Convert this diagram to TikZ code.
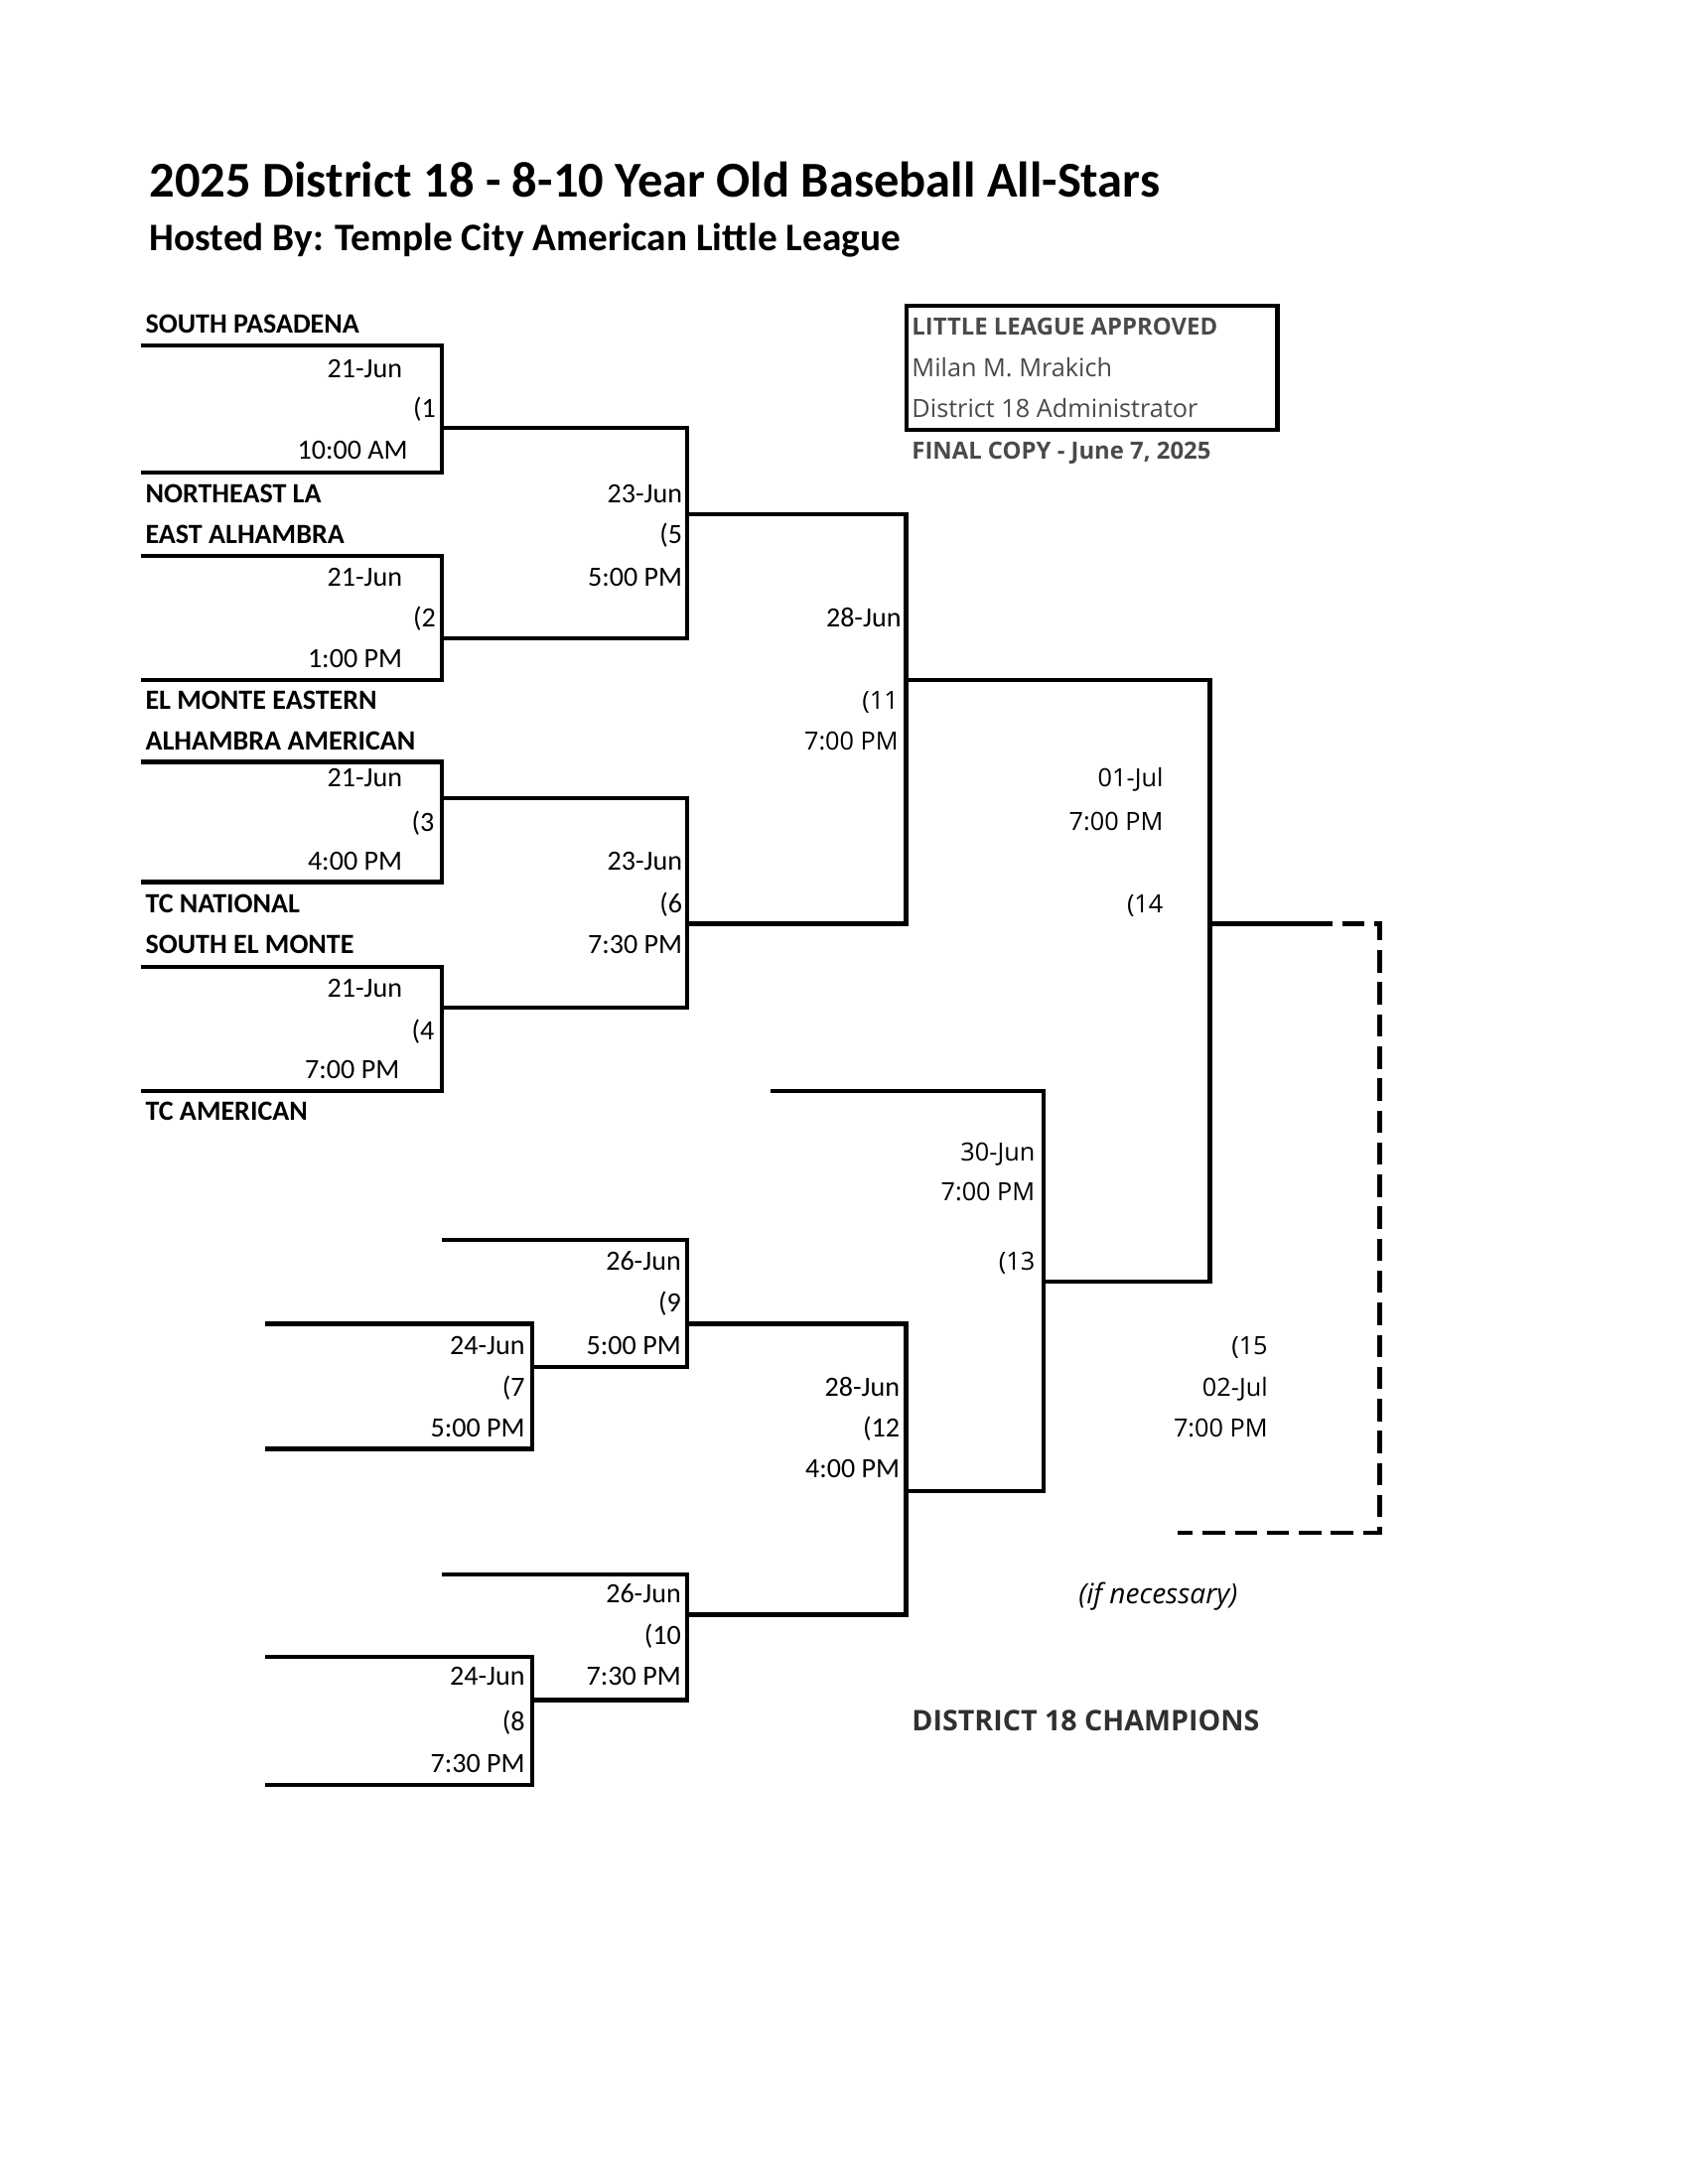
\documentclass[tikz,border=0pt]{standalone}
\usepackage{fontspec}
\setmainfont{Carlito}
\newfontfamily\osans{Open Sans}
\definecolor{boxgray}{HTML}{4A4A4A}
\definecolor{champ}{HTML}{303030}
\begin{document}
\begin{tikzpicture}[x=0.5pt,y=-0.5pt,
  br/.style={line width=1.6pt, line join=miter},
  dashbr/.style={line width=1.6pt, line join=miter, dash pattern=on 8pt off 3.5pt},
  team/.style={anchor=base west, inner sep=0pt, yshift=-3.2pt, font=\fontsize{10}{12}\selectfont\bfseries},
  lab/.style={anchor=base east, inner sep=0pt, yshift=-3.2pt, font=\fontsize{10}{12}\selectfont},
  olab/.style={anchor=base east, inner sep=0pt, yshift=-3.2pt, font=\osans\fontsize{9}{11}\selectfont},
  boxt/.style={anchor=base west, inner sep=0pt, yshift=-3.2pt, text=boxgray, font=\osans\fontsize{9}{11}\selectfont},
  boxtb/.style={boxt, font=\osans\fontsize{8.5}{11}\selectfont\bfseries}
]
\useasboundingbox (0,0) rectangle (1211.3,1567.5);

% ---------- titles ----------
\node[anchor=base west, inner sep=0pt, yshift=-5.8pt, font=\fontsize{18}{22}\selectfont\bfseries] (title) at (107,130) {2025 District 18 - 8-10 Year Old Baseball All-Stars};
\node[anchor=base west, inner sep=0pt, yshift=-4.5pt, font=\fontsize{14}{17}\selectfont\bfseries] (subtitle) at (107,171) {Hosted By: Temple City American Little League};

% ---------- approval box ----------
\node[draw, line width=1.6pt, inner sep=0pt, anchor=north west, minimum width=133pt, minimum height=44.5pt] (box) at (649,218) {};
\node[boxtb] (ap1) at (654,234) {LITTLE LEAGUE APPROVED};
\node[boxt] (ap2) at (654,264) {Milan M. Mrakich};
\node[boxt] (ap3) at (654,293) {District 18 Administrator};
\node[boxtb] (ap4) at (654,323) {FINAL COPY - June 7, 2025};

% ---------- coordinates ----------
\coordinate (g1a) at (101,248); \coordinate (g1b) at (317,248); \coordinate (g1c) at (317,339); \coordinate (g1d) at (101,339); \coordinate (g1o) at (317,307);
\coordinate (g2a) at (101,399); \coordinate (g2b) at (317,399); \coordinate (g2c) at (317,488); \coordinate (g2d) at (101,488); \coordinate (g2o) at (317,458);
\coordinate (g3a) at (101,547); \coordinate (g3b) at (317,547); \coordinate (g3c) at (317,633); \coordinate (g3d) at (101,633); \coordinate (g3o) at (317,573);
\coordinate (g4a) at (101,694); \coordinate (g4b) at (317,694); \coordinate (g4c) at (317,783); \coordinate (g4d) at (101,783); \coordinate (g4o) at (317,723);
\coordinate (g5a) at (493,307); \coordinate (g5b) at (493,458); \coordinate (g5o) at (493,369);
\coordinate (g6a) at (493,573); \coordinate (g6b) at (493,723); \coordinate (g6o) at (493,663);
\coordinate (g11a) at (650,369); \coordinate (g11b) at (650,663); \coordinate (g11o) at (650,488);
\coordinate (g14a) at (868,488); \coordinate (g14b) at (868,920); \coordinate (g14o) at (868,663); \coordinate (g14e) at (940,663);
\coordinate (g15a) at (990,663); \coordinate (g15b) at (990,1100); \coordinate (g15c) at (845,1100);
\coordinate (g13s) at (553,783); \coordinate (g13a) at (749,783); \coordinate (g13b) at (749,1070); \coordinate (g13o) at (749,920);
\coordinate (g9s) at (317,890); \coordinate (g9a) at (493,890); \coordinate (g9b) at (493,981); \coordinate (g9o) at (493,950);
\coordinate (g7a) at (190,950); \coordinate (g7b) at (382,950); \coordinate (g7c) at (382,1040); \coordinate (g7d) at (190,1040); \coordinate (g7o) at (382,981);
\coordinate (g12a) at (650,950); \coordinate (g12b) at (650,1159); \coordinate (g12o) at (650,1070);
\coordinate (g10s) at (317,1130); \coordinate (g10a) at (493,1130); \coordinate (g10b) at (493,1220); \coordinate (g10o) at (493,1159);
\coordinate (g8a) at (190,1189); \coordinate (g8b) at (382,1189); \coordinate (g8c) at (382,1281); \coordinate (g8d) at (190,1281); \coordinate (g8o) at (382,1220);

% ---------- bracket lines ----------
\draw[br] (g1a) -- (g1b) -- (g1c) -- (g1d);
\draw[br] (g2a) -- (g2b) -- (g2c) -- (g2d);
\draw[br] (g3a) -- (g3b) -- (g3c) -- (g3d);
\draw[br] (g4a) -- (g4b) -- (g4c) -- (g4d);
\draw[br] (g1o) -- (g5a) -- (g5b) -- (g2o);
\draw[br] (g3o) -- (g6a) -- (g6b) -- (g4o);
\draw[br] (g5o) -- (g11a) -- (g11b) -- (g6o);
\draw[br] (g11o) -- (g14a) -- (g14b) -- (g13o);
\draw[br] (g14o) -- (g14e);
\draw[dashbr] (g14e) -- (g15a) -- (g15b) -- (g15c);
\draw[br] (g13s) -- (g13a) -- (g13b) -- (g12o);
\draw[br] (g9s) -- (g9a) -- (g9b) -- (g7o);
\draw[br] (g7a) -- (g7b) -- (g7c) -- (g7d);
\draw[br] (g9o) -- (g12a) -- (g12b) -- (g10o);
\draw[br] (g10s) -- (g10a) -- (g10b) -- (g8o);
\draw[br] (g8a) -- (g8b) -- (g8c) -- (g8d);

% ---------- teams ----------
\node[team] (tm1) at (104,233) {SOUTH PASADENA};
\node[team] (tm2) at (104,354.4) {NORTHEAST LA};
\node[team] (tm3) at (104,384) {EAST ALHAMBRA};
\node[team] (tm4) at (104,503) {EL MONTE EASTERN};
\node[team] (tm5) at (104,531.6) {ALHAMBRA AMERICAN};
\node[team] (tm6) at (104,648.7) {TC NATIONAL};
\node[team] (tm7) at (104,678) {SOUTH EL MONTE};
\node[team] (tm8) at (104,798) {TC AMERICAN};

% ---------- game labels ----------
% game 1
\node[lab] (d1) at (289,265) {21-Jun};
\node[lab] (n1) at (313,293.5) {(1};
\node[lab] (h1) at (293,323) {10:00 AM};
% game 2
\node[lab] (d2) at (289,414.5) {21-Jun};
\node[lab] (n2) at (313,443.6) {(2};
\node[lab] (h2) at (289,472.6) {1:00 PM};
% game 3
\node[lab] (d3) at (289,558) {21-Jun};
\node[lab] (n3) at (312,590) {(3};
\node[lab] (h3) at (289,618.4) {4:00 PM};
% game 4
\node[lab] (d4) at (289,709) {21-Jun};
\node[lab] (n4) at (312,740) {(4};
\node[lab] (h4) at (287,767.5) {7:00 PM};
% game 5
\node[lab] (d5) at (490,354.4) {23-Jun};
\node[lab] (n5) at (490,384) {(5};
\node[lab] (h5) at (490,414.5) {5:00 PM};
% game 6
\node[lab] (d6) at (490,618.4) {23-Jun};
\node[lab] (n6) at (490,648.7) {(6};
\node[lab] (h6) at (490,678) {7:30 PM};
% game 11
\node[lab] (d11) at (647,443.6) {28-Jun};
\node[olab] (n11) at (645,503) {(11};
\node[olab] (h11) at (645,531.6) {7:00 PM};
% game 14
\node[olab] (d14) at (835,558) {01-Jul};
\node[olab] (h14) at (835,589.5) {7:00 PM};
\node[olab] (n14) at (835,648.7) {(14};
% game 13
\node[olab] (d13) at (743,826.8) {30-Jun};
\node[olab] (h13) at (743,855.4) {7:00 PM};
\node[olab] (n13) at (743,905.5) {(13};
% game 9
\node[lab] (d9) at (489,905.5) {26-Jun};
\node[lab] (n9) at (489,935.5) {(9};
\node[lab] (h9) at (489,965.5) {5:00 PM};
% game 7
\node[lab] (d7) at (377,965.5) {24-Jun};
\node[lab] (n7) at (377,996) {(7};
\node[lab] (h7) at (377,1024.6) {5:00 PM};
% game 12
\node[lab] (d12) at (646,996) {28-Jun};
\node[lab] (n12) at (646,1025) {(12};
\node[lab] (h12) at (646,1054) {4:00 PM};
% game 10
\node[lab] (d10) at (489,1144) {26-Jun};
\node[lab] (n10) at (489,1174) {(10};
\node[lab] (h10) at (489,1203) {7:30 PM};
% game 8
\node[lab] (d8) at (377,1203) {24-Jun};
\node[lab] (n8) at (377,1235.6) {(8};
\node[lab] (h8) at (377,1266) {7:30 PM};
% game 15
\node[olab] (n15) at (910,966) {(15};
\node[olab] (d15) at (910,996) {02-Jul};
\node[olab] (h15) at (910,1025) {7:00 PM};

\node[anchor=base, inner sep=0pt, yshift=-3.5pt, font=\osans\fontsize{10}{12}\selectfont\itshape] (ifn) at (831,1144) {(if necessary)};
\node[anchor=base west, inner sep=0pt, yshift=-3.6pt, text=champ, font=\osans\fontsize{10.2}{12}\selectfont\bfseries] (champs) at (654,1235) {DISTRICT 18 CHAMPIONS};
\end{tikzpicture}
\end{document}
